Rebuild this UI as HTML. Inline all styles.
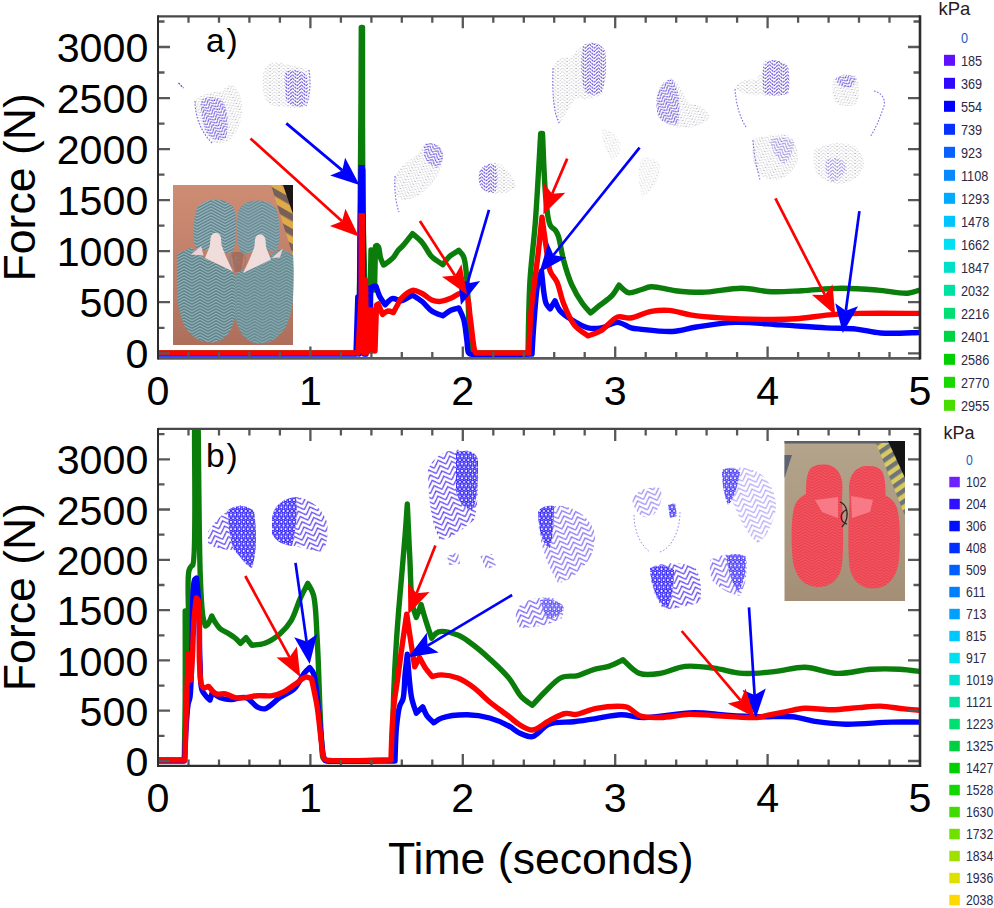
<!DOCTYPE html><html><head><meta charset="utf-8"><style>html,body{margin:0;padding:0;background:#fff;width:994px;height:908px;overflow:hidden}
svg{display:block}
text{font-family:"Liberation Sans",sans-serif;fill:#000}
.tl{font-size:41.2px}
.pl{font-size:33.5px;letter-spacing:1.8px}
.ax{font-size:44.6px}
.lg{fill:#2c2848}
.kp{fill:#2a1a1a}
</style></head><body><svg width="994" height="908" viewBox="0 0 994 908"><rect width="994" height="908" fill="#fff"/><defs>
<pattern id="tread" width="16" height="3" patternUnits="userSpaceOnUse" x="0"><rect width="16" height="3" fill="#7599a0"/><path d="M0,-4.6L8.0,-9.0L16,-4.6" fill="none" stroke="#577a82" stroke-width="1.0"/><path d="M0,-3.4L8.0,-7.8L16,-3.4" fill="none" stroke="#9fbcc0" stroke-width="0.7"/><path d="M0,-1.6L8.0,-6.0L16,-1.6" fill="none" stroke="#577a82" stroke-width="1.0"/><path d="M0,-0.4L8.0,-4.8L16,-0.4" fill="none" stroke="#9fbcc0" stroke-width="0.7"/><path d="M0,1.4L8.0,-3.0L16,1.4" fill="none" stroke="#577a82" stroke-width="1.0"/><path d="M0,2.6L8.0,-1.8L16,2.6" fill="none" stroke="#9fbcc0" stroke-width="0.7"/><path d="M0,4.4L8.0,0.0L16,4.4" fill="none" stroke="#577a82" stroke-width="1.0"/><path d="M0,5.6L8.0,1.2L16,5.6" fill="none" stroke="#9fbcc0" stroke-width="0.7"/><path d="M0,7.4L8.0,3.0L16,7.4" fill="none" stroke="#577a82" stroke-width="1.0"/><path d="M0,8.6L8.0,4.2L16,8.6" fill="none" stroke="#9fbcc0" stroke-width="0.7"/><path d="M0,10.4L8.0,6.0L16,10.4" fill="none" stroke="#577a82" stroke-width="1.0"/><path d="M0,11.6L8.0,7.2L16,11.6" fill="none" stroke="#9fbcc0" stroke-width="0.7"/></pattern><pattern id="treadH" width="28" height="3" patternUnits="userSpaceOnUse" x="1"><rect width="28" height="3" fill="#7b9ca5"/><path d="M0,-4.5L14.0,-12.0L28,-4.5" fill="none" stroke="#5a7c86" stroke-width="1.0"/><path d="M0,-3.3L14.0,-10.8L28,-3.3" fill="none" stroke="#a2bec4" stroke-width="0.7"/><path d="M0,-1.5L14.0,-9.0L28,-1.5" fill="none" stroke="#5a7c86" stroke-width="1.0"/><path d="M0,-0.3L14.0,-7.8L28,-0.3" fill="none" stroke="#a2bec4" stroke-width="0.7"/><path d="M0,1.5L14.0,-6.0L28,1.5" fill="none" stroke="#5a7c86" stroke-width="1.0"/><path d="M0,2.7L14.0,-4.8L28,2.7" fill="none" stroke="#a2bec4" stroke-width="0.7"/><path d="M0,4.5L14.0,-3.0L28,4.5" fill="none" stroke="#5a7c86" stroke-width="1.0"/><path d="M0,5.7L14.0,-1.8L28,5.7" fill="none" stroke="#a2bec4" stroke-width="0.7"/><path d="M0,7.5L14.0,0.0L28,7.5" fill="none" stroke="#5a7c86" stroke-width="1.0"/><path d="M0,8.7L14.0,1.2L28,8.7" fill="none" stroke="#a2bec4" stroke-width="0.7"/><path d="M0,10.5L14.0,3.0L28,10.5" fill="none" stroke="#5a7c86" stroke-width="1.0"/><path d="M0,11.7L14.0,4.2L28,11.7" fill="none" stroke="#a2bec4" stroke-width="0.7"/><path d="M0,13.5L14.0,6.0L28,13.5" fill="none" stroke="#5a7c86" stroke-width="1.0"/><path d="M0,14.7L14.0,7.2L28,14.7" fill="none" stroke="#a2bec4" stroke-width="0.7"/></pattern>
<pattern id="treadR" width="14" height="2.8" patternUnits="userSpaceOnUse"><rect width="14" height="2.8" fill="#f6535e"/><path d="M0,-4.4L7,-8.4L14,-4.4" fill="none" stroke="#d93c4a" stroke-width="0.9"/><path d="M0,-1.6L7,-5.6L14,-1.6" fill="none" stroke="#d93c4a" stroke-width="0.9"/><path d="M0,1.2L7,-2.8L14,1.2" fill="none" stroke="#d93c4a" stroke-width="0.9"/><path d="M0,4.0L7,0.0L14,4.0" fill="none" stroke="#d93c4a" stroke-width="0.9"/><path d="M0,6.8L7,2.8L14,6.8" fill="none" stroke="#d93c4a" stroke-width="0.9"/><path d="M0,9.6L7,5.6L14,9.6" fill="none" stroke="#d93c4a" stroke-width="0.9"/></pattern>
<pattern id="haz" width="20" height="13" patternUnits="userSpaceOnUse" patternTransform="rotate(30)"><rect width="20" height="13" fill="#e0aa48"/><rect width="20" height="6.5" fill="#76605a"/></pattern>
<pattern id="haz2" width="9" height="9" patternUnits="userSpaceOnUse" patternTransform="rotate(-35)"><rect width="9" height="9" fill="#d8cc60"/><rect width="9" height="4.5" fill="#70747a"/></pattern>
<pattern id="chevF" width="8" height="3.4" patternUnits="userSpaceOnUse" patternTransform="rotate(-30)"><path d="M0,2.8L4,0.6L8,2.8" fill="none" stroke="#7058d8" stroke-width="0.8" stroke-dasharray="1.2 1"/></pattern>
<pattern id="chevF2" width="8" height="3.4" patternUnits="userSpaceOnUse" patternTransform="rotate(-30)"><path d="M0,2.8L4,0.6L8,2.8" fill="none" stroke="#9a9aa8" stroke-width="0.6" stroke-dasharray="1 1.4"/></pattern>
<pattern id="chevB" width="12.4" height="5.6" patternUnits="userSpaceOnUse" patternTransform="rotate(-20)"><path d="M0,-10.60L6.2,-16.80L12.4,-10.60" fill="none" stroke="#5a3cf0" stroke-width="1.25"/><path d="M0,-5.00L6.2,-11.20L12.4,-5.00" fill="none" stroke="#5a3cf0" stroke-width="1.25"/><path d="M0,0.60L6.2,-5.60L12.4,0.60" fill="none" stroke="#5a3cf0" stroke-width="1.25"/><path d="M0,6.20L6.2,0.00L12.4,6.20" fill="none" stroke="#5a3cf0" stroke-width="1.25"/><path d="M0,11.80L6.2,5.60L12.4,11.80" fill="none" stroke="#5a3cf0" stroke-width="1.25"/><path d="M0,17.40L6.2,11.20L12.4,17.40" fill="none" stroke="#5a3cf0" stroke-width="1.25"/></pattern>
<pattern id="dotB" width="4.2" height="7.274" patternUnits="userSpaceOnUse"><circle cx="2.10" cy="1.82" r="1.6" fill="none" stroke="#2c1cfa" stroke-width="1.1"/><circle cx="0.00" cy="5.46" r="1.6" fill="none" stroke="#2c1cfa" stroke-width="1.1"/><circle cx="4.20" cy="5.46" r="1.6" fill="none" stroke="#2c1cfa" stroke-width="1.1"/></pattern>
<linearGradient id="bgT" x1="0" y1="0" x2="0" y2="1"><stop offset="0" stop-color="#cd8d73"/><stop offset="0.45" stop-color="#c2806a"/><stop offset="1" stop-color="#ad6f5b"/></linearGradient><linearGradient id="bgB" x1="0" y1="0" x2="0" y2="1"><stop offset="0" stop-color="#b4a48c"/><stop offset="1" stop-color="#a48f76"/></linearGradient><pattern id="cg0" width="9" height="3.4" patternUnits="userSpaceOnUse" patternTransform="rotate(0)"><path d="M0,-6.00L4.5,-10.20L9,-6.00" fill="none" stroke="#7c7c88" stroke-width="0.8" stroke-dasharray="1.4 1.3"/><path d="M0,-2.60L4.5,-6.80L9,-2.60" fill="none" stroke="#7c7c88" stroke-width="0.8" stroke-dasharray="1.4 1.3"/><path d="M0,0.80L4.5,-3.40L9,0.80" fill="none" stroke="#7c7c88" stroke-width="0.8" stroke-dasharray="1.4 1.3"/><path d="M0,4.20L4.5,0.00L9,4.20" fill="none" stroke="#7c7c88" stroke-width="0.8" stroke-dasharray="1.4 1.3"/><path d="M0,7.60L4.5,3.40L9,7.60" fill="none" stroke="#7c7c88" stroke-width="0.8" stroke-dasharray="1.4 1.3"/><path d="M0,11.00L4.5,6.80L9,11.00" fill="none" stroke="#7c7c88" stroke-width="0.8" stroke-dasharray="1.4 1.3"/></pattern><pattern id="cp0" width="9" height="3.4" patternUnits="userSpaceOnUse" patternTransform="rotate(0)"><path d="M0,-6.00L4.5,-10.20L9,-6.00" fill="none" stroke="#5434e0" stroke-width="1.0" stroke-dasharray="2.2 0.8"/><path d="M0,-2.60L4.5,-6.80L9,-2.60" fill="none" stroke="#5434e0" stroke-width="1.0" stroke-dasharray="2.2 0.8"/><path d="M0,0.80L4.5,-3.40L9,0.80" fill="none" stroke="#5434e0" stroke-width="1.0" stroke-dasharray="2.2 0.8"/><path d="M0,4.20L4.5,0.00L9,4.20" fill="none" stroke="#5434e0" stroke-width="1.0" stroke-dasharray="2.2 0.8"/><path d="M0,7.60L4.5,3.40L9,7.60" fill="none" stroke="#5434e0" stroke-width="1.0" stroke-dasharray="2.2 0.8"/><path d="M0,11.00L4.5,6.80L9,11.00" fill="none" stroke="#5434e0" stroke-width="1.0" stroke-dasharray="2.2 0.8"/></pattern><pattern id="cgL" width="9" height="3.4" patternUnits="userSpaceOnUse" patternTransform="rotate(-30)"><path d="M0,-6.00L4.5,-10.20L9,-6.00" fill="none" stroke="#7c7c88" stroke-width="0.8" stroke-dasharray="1.4 1.3"/><path d="M0,-2.60L4.5,-6.80L9,-2.60" fill="none" stroke="#7c7c88" stroke-width="0.8" stroke-dasharray="1.4 1.3"/><path d="M0,0.80L4.5,-3.40L9,0.80" fill="none" stroke="#7c7c88" stroke-width="0.8" stroke-dasharray="1.4 1.3"/><path d="M0,4.20L4.5,0.00L9,4.20" fill="none" stroke="#7c7c88" stroke-width="0.8" stroke-dasharray="1.4 1.3"/><path d="M0,7.60L4.5,3.40L9,7.60" fill="none" stroke="#7c7c88" stroke-width="0.8" stroke-dasharray="1.4 1.3"/><path d="M0,11.00L4.5,6.80L9,11.00" fill="none" stroke="#7c7c88" stroke-width="0.8" stroke-dasharray="1.4 1.3"/></pattern><pattern id="cpL" width="9" height="3.4" patternUnits="userSpaceOnUse" patternTransform="rotate(-30)"><path d="M0,-6.00L4.5,-10.20L9,-6.00" fill="none" stroke="#5434e0" stroke-width="1.0" stroke-dasharray="2.2 0.8"/><path d="M0,-2.60L4.5,-6.80L9,-2.60" fill="none" stroke="#5434e0" stroke-width="1.0" stroke-dasharray="2.2 0.8"/><path d="M0,0.80L4.5,-3.40L9,0.80" fill="none" stroke="#5434e0" stroke-width="1.0" stroke-dasharray="2.2 0.8"/><path d="M0,4.20L4.5,0.00L9,4.20" fill="none" stroke="#5434e0" stroke-width="1.0" stroke-dasharray="2.2 0.8"/><path d="M0,7.60L4.5,3.40L9,7.60" fill="none" stroke="#5434e0" stroke-width="1.0" stroke-dasharray="2.2 0.8"/><path d="M0,11.00L4.5,6.80L9,11.00" fill="none" stroke="#5434e0" stroke-width="1.0" stroke-dasharray="2.2 0.8"/></pattern><pattern id="cgR" width="9" height="3.4" patternUnits="userSpaceOnUse" patternTransform="rotate(30)"><path d="M0,-6.00L4.5,-10.20L9,-6.00" fill="none" stroke="#7c7c88" stroke-width="0.8" stroke-dasharray="1.4 1.3"/><path d="M0,-2.60L4.5,-6.80L9,-2.60" fill="none" stroke="#7c7c88" stroke-width="0.8" stroke-dasharray="1.4 1.3"/><path d="M0,0.80L4.5,-3.40L9,0.80" fill="none" stroke="#7c7c88" stroke-width="0.8" stroke-dasharray="1.4 1.3"/><path d="M0,4.20L4.5,0.00L9,4.20" fill="none" stroke="#7c7c88" stroke-width="0.8" stroke-dasharray="1.4 1.3"/><path d="M0,7.60L4.5,3.40L9,7.60" fill="none" stroke="#7c7c88" stroke-width="0.8" stroke-dasharray="1.4 1.3"/><path d="M0,11.00L4.5,6.80L9,11.00" fill="none" stroke="#7c7c88" stroke-width="0.8" stroke-dasharray="1.4 1.3"/></pattern><pattern id="cpR" width="9" height="3.4" patternUnits="userSpaceOnUse" patternTransform="rotate(30)"><path d="M0,-6.00L4.5,-10.20L9,-6.00" fill="none" stroke="#5434e0" stroke-width="1.0" stroke-dasharray="2.2 0.8"/><path d="M0,-2.60L4.5,-6.80L9,-2.60" fill="none" stroke="#5434e0" stroke-width="1.0" stroke-dasharray="2.2 0.8"/><path d="M0,0.80L4.5,-3.40L9,0.80" fill="none" stroke="#5434e0" stroke-width="1.0" stroke-dasharray="2.2 0.8"/><path d="M0,4.20L4.5,0.00L9,4.20" fill="none" stroke="#5434e0" stroke-width="1.0" stroke-dasharray="2.2 0.8"/><path d="M0,7.60L4.5,3.40L9,7.60" fill="none" stroke="#5434e0" stroke-width="1.0" stroke-dasharray="2.2 0.8"/><path d="M0,11.00L4.5,6.80L9,11.00" fill="none" stroke="#5434e0" stroke-width="1.0" stroke-dasharray="2.2 0.8"/></pattern></defs><path d="M178.5,83 L183.5,88" stroke="#3a5ad8" stroke-width="1.3" stroke-dasharray="2 1.2"/><path d="M195,101 C200,94 212,92 222,91 C226,86 230,83 234,86 C240,92 243,100 242,110 C241,122 238,132 230,140 C222,145 214,144 208,140 C200,130 195,115 195,101 Z" fill="url(#cgL)" opacity="0.75"/><path d="M201,100 C208,96 216,97 222,100 C228,108 229,125 226,138 C220,142 212,141 206,132 C202,122 200,110 201,100 Z" fill="url(#cpL)" opacity="0.9"/><path d="M195,101 C195,118 202,133 212,143" fill="none" stroke="#6a4ee0" stroke-width="1.1" stroke-dasharray="1.6 1.6" opacity="0.85"/><path d="M264,70 C268,62 280,60 285,64 C292,66 302,66 309,70 C311,82 310,96 306,106 C298,109 290,108 282,106 C274,108 266,104 264,96 C262,86 262,76 264,70 Z" fill="url(#cg0)" opacity="0.75"/><path d="M285,72 C292,68 302,70 307,76 C309,88 308,98 304,106 C296,108 290,106 286,100 C285,90 284,80 285,72 Z" fill="url(#cp0)" opacity="0.9"/><path d="M309,70 C311,82 310,96 306,106" fill="none" stroke="#6a4ee0" stroke-width="1.1" stroke-dasharray="1.6 1.6" opacity="0.85"/><path d="M425,144 C432,142 440,144 443,152 C444,166 438,178 428,188 C420,196 410,201 402,200 C396,198 394,190 395,176 C400,166 410,160 418,154 C420,150 422,146 425,144 Z" fill="url(#cgR)" opacity="0.75"/><path d="M424,144 C432,142 440,144 443,152 C444,160 441,166 436,168 C430,166 426,160 424,156 Z" fill="url(#cpR)" opacity="0.9"/><path d="M395,176 C394,190 396,204 399,212" fill="none" stroke="#6a4ee0" stroke-width="1.1" stroke-dasharray="1.6 1.6" opacity="0.85"/><path d="M480,170 C484,164 494,161 500,164 C508,170 514,178 516,186 C512,192 504,194 496,194 C486,194 480,190 479,182 C478,178 479,174 480,170 Z" fill="url(#cg0)" opacity="0.75"/><path d="M480,170 C484,164 492,162 496,166 C498,174 498,186 495,193 C486,193 480,189 479,182 C478,178 479,174 480,170 Z" fill="url(#cp0)" opacity="0.9"/><path d="M553,68 C556,60 562,56 570,58 C576,52 582,44 590,42 C598,42 604,48 606,56 C607,70 606,84 602,94 C594,100 584,100 576,98 C570,106 564,116 560,124 C554,118 552,96 553,68 Z" fill="url(#cg0)" opacity="0.75"/><path d="M583,46 C590,41 600,42 605,50 C607,64 606,80 602,92 C596,96 588,96 584,90 C581,76 580,60 583,46 Z" fill="url(#cp0)" opacity="0.9"/><path d="M553,68 C552,96 554,116 560,124" fill="none" stroke="#6a4ee0" stroke-width="1.1" stroke-dasharray="1.6 1.6" opacity="0.85"/><path d="M657,92 C660,84 666,78 672,78 C680,84 684,96 690,104 C698,104 706,108 710,116 C706,124 696,128 684,128 C672,128 662,124 658,116 C656,108 656,98 657,92 Z" fill="url(#cgL)" opacity="0.75"/><path d="M658,92 C662,84 668,78 673,80 C679,90 681,106 678,124 C670,126 662,122 658,116 C656,108 656,98 658,92 Z" fill="url(#cpL)" opacity="0.9"/><path d="M602,130 C608,128 616,134 620,142 C622,150 618,158 612,160 C606,154 602,144 602,130 Z" fill="url(#cgR)" opacity="0.5"/><path d="M640,160 C646,156 656,156 660,166 C660,180 652,192 642,197 C638,185 638,170 640,160 Z" fill="url(#cgR)" opacity="0.5"/><path d="M735,89 C738,80 748,78 756,80 C762,68 770,60 780,60 C788,64 790,76 789,92 C780,96 770,96 762,95 C752,96 744,94 735,89 Z" fill="url(#cg0)" opacity="0.75"/><path d="M764,62 C772,58 782,60 788,66 C790,76 790,86 788,94 C780,96 770,96 764,94 C762,84 762,72 764,62 Z" fill="url(#cp0)" opacity="0.9"/><path d="M735,89 C736,104 740,118 746,127" fill="none" stroke="#6a4ee0" stroke-width="1.1" stroke-dasharray="1.6 1.6" opacity="0.85"/><path d="M833,80 C838,74 848,72 856,76 C860,84 860,96 856,104 C848,108 838,106 834,100 C832,92 832,86 833,80 Z" fill="url(#cgL)" opacity="0.75"/><path d="M836,78 C842,74 850,74 856,78 C856,84 852,88 846,88 C840,86 836,84 836,78 Z" fill="url(#cpL)" opacity="0.9"/><path d="M874,91 C880,92 886,98 884,106 C880,118 876,128 870,137" fill="none" stroke="#6a4ee0" stroke-width="1.1" stroke-dasharray="1.6 1.6" opacity="0.85"/><path d="M753,140 C760,136 772,134 784,134 C794,136 798,146 798,160 C794,172 786,178 776,180 C766,180 758,176 754,166 C752,158 752,148 753,140 Z" fill="url(#cgR)" opacity="0.75"/><path d="M770,140 C778,136 788,136 794,142 C794,152 790,160 784,164 C778,160 772,152 770,140 Z" fill="url(#cpR)" opacity="0.55"/><path d="M753,140 C754,158 758,172 760,180" fill="none" stroke="#6a4ee0" stroke-width="1.1" stroke-dasharray="1.6 1.6" opacity="0.85"/><path d="M814,150 C822,144 836,142 848,144 C858,146 864,154 864,166 C860,176 852,182 842,184 C830,184 820,180 816,172 C813,166 813,158 814,150 Z" fill="url(#cg0)" opacity="0.75"/><path d="M826,160 C834,156 844,158 846,166 C846,174 840,180 832,182 C826,176 824,168 826,160 Z" fill="url(#cp0)" opacity="0.5"/><path d="M208,532 C214,522 222,514 232,508 C240,504 250,504 254,512 C257,530 257,552 252,568 C246,566 240,556 234,550 C226,550 214,548 208,544 Z" fill="url(#chevB)" opacity="1.0"/><path d="M228,510 C236,505 248,504 254,512 C257,530 257,552 252,568 C246,566 240,556 234,550 C230,540 228,525 228,510 Z" fill="#fff"/><path d="M228,510 C236,505 248,504 254,512 C257,530 257,552 252,568 C246,566 240,556 234,550 C230,540 228,525 228,510 Z" fill="url(#dotB)" opacity="1.0"/><path d="M272,520 C272,506 284,498 296,497 C310,498 322,508 327,522 C329,536 326,548 322,552 C310,550 296,546 284,544 C276,542 272,534 272,520 Z" fill="url(#chevB)" opacity="1.0"/><path d="M272,520 C272,506 284,498 296,497 C298,512 296,530 292,546 C284,545 276,542 272,534 Z" fill="#fff"/><path d="M272,520 C272,506 284,498 296,497 C298,512 296,530 292,546 C284,545 276,542 272,534 Z" fill="url(#dotB)" opacity="1.0"/><path d="M428,470 C432,458 444,450 456,450 C468,449 478,452 478,462 C478,490 478,510 474,520 C462,530 450,540 440,540 C432,526 428,500 428,470 Z" fill="url(#chevB)" opacity="1.0"/><path d="M456,452 C468,449 478,452 478,462 C478,490 476,505 472,510 C462,508 458,500 456,490 Z" fill="#fff"/><path d="M456,452 C468,449 478,452 478,462 C478,490 476,505 472,510 C462,508 458,500 456,490 Z" fill="url(#dotB)" opacity="1.0"/><path d="M538,520 C540,510 552,505 562,506 C578,508 592,520 595,534 C596,548 590,560 584,566 C576,576 566,582 558,583 C548,566 540,548 538,520 Z" fill="url(#chevB)" opacity="0.75"/><path d="M538,512 C541,506 548,505 554,506 C554,520 553,536 550,548 C544,546 539,536 538,512 Z" fill="#fff"/><path d="M538,512 C541,506 548,505 554,506 C554,520 553,536 550,548 C544,546 539,536 538,512 Z" fill="url(#dotB)" opacity="1.0"/><path d="M447,556 L458,552 L460,564 L449,565 Z" fill="url(#chevB)" opacity="0.8"/><path d="M480,556 L492,554 L496,566 L486,569 Z" fill="url(#chevB)" opacity="0.8"/><path d="M516,610 C522,600 540,596 552,598 C562,600 566,608 562,618 C552,624 536,628 520,628 C516,622 515,616 516,610 Z" fill="url(#chevB)" opacity="0.85"/><path d="M540,600 C548,598 560,600 564,608 C560,616 552,620 546,618 Z" fill="#fff"/><path d="M540,600 C548,598 560,600 564,608 C560,616 552,620 546,618 Z" fill="url(#dotB)" opacity="0.8"/><path d="M632,500 C636,490 648,486 660,488 C664,496 660,510 652,516 C644,520 636,515 632,500 Z" fill="url(#chevB)" opacity="0.6"/><path d="M634,515 C634,530 640,545 650,552 M660,552 C672,548 680,530 680,512" fill="none" stroke="#6a4ee0" stroke-width="1" stroke-dasharray="1.5 2" opacity="0.7"/><path d="M668,505 L675,503 L677,516 L670,518 Z" fill="#fff"/><path d="M668,505 L675,503 L677,516 L670,518 Z" fill="url(#dotB)" opacity="0.9"/><path d="M722,470 C730,466 746,466 758,472 C770,480 777,495 776,510 C772,526 766,538 758,543 C748,536 740,520 734,505 C728,495 722,485 722,470 Z" fill="url(#chevB)" opacity="0.45"/><path d="M722,470 C728,467 736,468 740,472 C738,485 734,500 728,505 C724,496 722,484 722,470 Z" fill="#fff"/><path d="M722,470 C728,467 736,468 740,472 C738,485 734,500 728,505 C724,496 722,484 722,470 Z" fill="url(#dotB)" opacity="0.9"/><path d="M650,568 C660,562 680,562 694,566 C702,576 702,592 700,602 C690,606 676,608 664,610 C656,600 650,585 650,568 Z" fill="url(#chevB)" opacity="1.0"/><path d="M650,568 C658,565 668,565 674,570 C674,585 672,598 668,608 C660,606 652,592 650,568 Z" fill="#fff"/><path d="M650,568 C658,565 668,565 674,570 C674,585 672,598 668,608 C660,606 652,592 650,568 Z" fill="url(#dotB)" opacity="1.0"/><path d="M710,560 C720,554 736,552 746,556 C748,570 746,585 740,596 C730,594 718,588 712,580 C710,574 709,566 710,560 Z" fill="url(#chevB)" opacity="0.8"/><path d="M726,556 C736,553 744,554 746,558 C746,572 744,584 738,592 C732,584 728,570 726,556 Z" fill="#fff"/><path d="M726,556 C736,553 744,554 746,558 C746,572 744,584 738,592 C732,584 728,570 726,556 Z" fill="url(#dotB)" opacity="0.9"/><g><rect x="173" y="185" width="120" height="160" fill="url(#bgT)"/><path d="M231,252 L244,252 L241,272 L235,272 Z" fill="#8a5a4c" opacity="0.5"/><path d="M271,185 L293,185 L293,256 Z" fill="url(#haz)"/><path d="M283,185 L293,185 L293,214 Z" fill="#1c1616"/><path d="M215,199.8 C221,199.6 228,201.5 232.4,206 C235.5,210 236.6,218 236.4,226 C236.2,234 235.6,242 234,248 C232.6,252 230,253.5 227,253 C222,252.5 218,250 215,246 C210,250 202,252 197,249 C194.5,246 193.8,242 193.8,236 C193.6,228 194,218 196,211 C198.5,203.5 206,200 215,199.8 Z" fill="url(#treadH)"/><path d="M215,199.8 C221,199.6 228,201.5 232.4,206 C235.5,210 236.6,218 236.4,226 C236.2,234 235.6,242 234,248 C232.6,252 230,253.5 227,253 C222,252.5 218,250 215,246 C210,250 202,252 197,249 C194.5,246 193.8,242 193.8,236 C193.6,228 194,218 196,211 C198.5,203.5 206,200 215,199.8 Z" fill="url(#treadH)" transform="translate(473.2,0.8) scale(-1,1)"/><path d="M177.5,254 L190.8,247.4 L205,258 L233,271.5 C235,274 235.6,277 235.6,281 C235.8,292 235.8,303 235.4,313.8 C234.6,322 232,328 228.5,333.6 C224,339 218,342.6 212.6,342.6 C205,342.6 199,341 194.7,337.6 C189,333 185,328 182.8,321.7 C179,312 177.6,303 177.4,294 C177,285 176.8,276 176.9,268.2 Z" fill="url(#tread)"/><path d="M177.5,254 L190.8,247.4 L205,258 L233,271.5 C235,274 235.6,277 235.6,281 C235.8,292 235.8,303 235.4,313.8 C234.6,322 232,328 228.5,333.6 C224,339 218,342.6 212.6,342.6 C205,342.6 199,341 194.7,337.6 C189,333 185,328 182.8,321.7 C179,312 177.6,303 177.4,294 C177,285 176.8,276 176.9,268.2 Z" fill="url(#tread)" transform="translate(470.6,0.8) scale(-1,1)"/><path d="M215.2,233 C218,232.5 220.5,234.5 221,238 L221.5,245 C224,252 228,262 233,271.5 L205,258 C207,253 209,249 210,245 L210.5,238 C211,235 213,233 215.2,233 Z" fill="#f1dcdc"/><path d="M215.2,233 C218,232.5 220.5,234.5 221,238 L221.5,245 C224,252 228,262 233,271.5 L205,258 C207,253 209,249 210,245 L210.5,238 C211,235 213,233 215.2,233 Z" fill="#f1dcdc" transform="translate(476,1.5) scale(-1,1)"/><path d="M190.8,254.5 L201.2,246.2 L203.5,255.5 Z" fill="#ecd2d6"/><path d="M271.7,257.9 L282.8,248.6 L280,257.5 Z" fill="#ecd2d6"/><path d="M233,252 C228,258 230,268 236,268 M241,252 C247,255 247,264 242,269 M237,256 C234,260 236,264 240,262" fill="none" stroke="#8a8086" stroke-width="1.2"/></g><g><rect x="784.5" y="441" width="120.5" height="160" fill="url(#bgB)"/><rect x="784.5" y="441" width="120.5" height="2.5" fill="#5a6068"/><path d="M784.5,455 L792,455 L784.5,478 Z" fill="#5a6474"/><path d="M876,443 L905,443 L905,516 Z" fill="url(#haz2)"/><path d="M888,441 L905,441 L905,478 Z" fill="#141414"/><path d="M824,464.5 C834,464 842,472 842.5,485 L842,500 C843,520 844,545 842,565 C840,580 830,587 818,587 C805,587 796,578 793,562 C791,545 791,520 794,508 C796,500 802,496 806,494 C806,485 806,475 810,469 C814,465 819,464.5 824,464.5 Z" fill="url(#treadR)"/><path d="M824,464.5 C834,464 842,472 842.5,485 L842,500 C843,520 844,545 842,565 C840,580 830,587 818,587 C805,587 796,578 793,562 C791,545 791,520 794,508 C796,500 802,496 806,494 C806,485 806,475 810,469 C814,465 819,464.5 824,464.5 Z" fill="url(#treadR)" transform="translate(1691.5,1.5) scale(-1,1)"/><path d="M815,500 L838,497 L838,518 L822,512 Z" fill="#f87a86"/><path d="M851,496 L873,500 L870,512 L852,518 Z" fill="#f87a86"/><path d="M840,502 C848,505 850,518 842,527 M846,510 C839,514 840,522 847,524" fill="none" stroke="#3a1c24" stroke-width="1.3"/></g><defs><clipPath id="c1"><rect x="158" y="16.3" width="762" height="342.09999999999997"/></clipPath><clipPath id="c2"><rect x="158" y="428.9" width="762" height="337.0"/></clipPath></defs><g clip-path="url(#c1)"><path d="M158.0,353.0C191.5,353.0 325.5,353.0 359.0,353.0L359.0,353.0C359.3,310.8 360.6,158.8 361.0,100.0C361.2,68.5 361.2,39.6 361.3,27.5L361.3,27.5C361.5,27.5 362.3,27.5 362.5,27.5L362.5,27.5C362.6,56.2 362.3,157.3 362.8,200.0C363.1,225.2 363.8,242.0 364.2,260.0C364.5,274.7 364.7,287.6 365.0,300.0C365.3,310.7 365.8,325.0 366.0,330.0L366.0,330.0C366.6,325.0 368.7,311.3 369.5,300.0C370.6,285.5 370.8,258.3 371.0,250.0L371.0,250.0C371.2,256.7 371.8,283.3 372.0,290.0L372.0,290.0C372.2,283.3 373.2,256.7 373.5,250.0L373.5,250.0C373.7,256.7 374.3,283.3 374.5,290.0L374.5,290.0C374.7,282.7 375.3,253.3 375.5,246.0L375.5,246.0C375.8,245.9 376.8,245.6 377.0,245.5L377.0,245.5C377.2,245.8 378.1,246.2 378.5,247.0C379.5,248.9 379.6,254.8 380.6,258.0C381.4,260.6 383.0,263.8 383.5,265.0L383.5,265.0C383.9,264.8 385.0,264.2 386.0,263.5C387.8,262.2 391.3,259.7 393.3,257.5C395.2,255.4 396.4,252.5 398.1,250.4C399.6,248.6 401.1,247.6 402.9,245.6C405.6,242.6 410.9,235.6 412.5,233.6L412.5,233.6C414.1,235.1 419.1,238.9 422.1,242.4C425.6,246.4 428.0,252.9 431.7,256.7C435.0,260.1 441.0,263.4 442.9,264.7L442.9,264.7C443.9,263.4 446.7,259.0 449.2,256.7C451.9,254.2 457.2,251.4 458.8,250.4L458.8,250.4C459.6,251.4 462.4,253.7 463.6,256.7C465.7,261.7 465.9,269.8 466.8,279.1C468.3,294.4 468.7,327.2 470.0,340.0C470.6,345.9 471.7,350.8 472.0,353.0L472.0,353.0C481.3,353.0 518.7,353.0 528.0,353.0L528.0,353.0C528.3,341.1 528.6,304.5 529.9,281.9C531.1,261.2 533.6,244.3 535.3,222.5C537.3,195.8 539.8,148.3 540.7,133.5L540.7,133.5C541.0,133.5 542.2,133.5 542.5,133.5L542.5,133.5C543.1,144.8 544.2,184.2 546.1,201.0C547.2,211.1 547.6,220.2 550.2,225.2C551.6,228.0 554.2,228.7 555.6,230.6C556.8,232.3 557.4,233.5 558.3,236.0C560.1,241.1 561.4,252.3 563.6,260.3C565.8,268.5 568.4,277.2 571.7,284.6C574.8,291.5 578.9,298.4 582.5,303.5C585.2,307.3 589.2,311.3 590.6,312.9L590.6,312.9C592.0,311.8 595.6,308.7 598.7,306.2C602.6,303.0 608.7,299.3 612.2,295.4C615.2,292.1 617.9,286.8 619.0,285.1L619.0,285.1C620.6,286.4 624.9,291.9 628.4,292.7C631.9,293.5 636.2,291.0 640.0,290.0C643.8,289.0 646.7,287.1 651.1,286.8C657.6,286.4 667.0,289.8 675.3,290.7C684.1,291.7 692.5,292.5 702.4,292.3C714.3,292.0 729.5,288.2 741.7,288.3C752.4,288.4 761.8,291.3 771.9,291.7C781.9,292.1 791.3,291.2 802.0,290.7C814.2,290.1 828.5,288.4 841.3,288.3C853.6,288.2 866.0,289.2 877.5,290.1C888.0,290.9 899.9,293.8 907.7,293.2C912.7,292.8 917.8,290.6 919.8,290.1" fill="none" stroke="#0a7d0a" stroke-width="5.4" stroke-linejoin="round" stroke-linecap="round"/><path d="M158.0,354.0C191.0,354.0 323.0,354.0 356.0,354.0L356.0,354.0C356.3,344.5 357.5,306.5 357.8,297.0L357.8,297.0C358.0,306.5 358.8,344.5 359.0,354.0L359.0,354.0C359.2,336.7 359.6,282.4 360.0,250.0C360.3,221.6 361.0,183.3 361.2,170.0L361.2,170.0C361.5,170.0 362.5,170.0 362.8,170.0L362.8,170.0C363.0,200.7 363.8,323.3 364.0,354.0L364.0,354.0C364.3,354.0 365.7,354.0 366.0,354.0L366.0,354.0C366.6,343.0 368.9,299.0 369.5,288.0L369.5,288.0C369.7,291.3 370.3,304.7 370.5,308.0L370.5,308.0C370.7,304.7 370.1,290.9 371.5,288.0C372.0,286.9 372.7,286.6 373.5,286.3C374.2,286.0 375.6,286.3 376.0,286.3L376.0,286.3C376.7,288.1 378.4,293.8 380.0,297.0C381.5,299.9 384.3,303.5 385.2,304.8L385.2,304.8C386.4,303.8 389.6,299.3 392.3,298.6C395.0,297.9 398.2,301.1 401.3,300.7C404.9,300.3 410.6,296.0 412.5,295.1L412.5,295.1C414.1,296.2 419.0,299.0 422.1,301.5C425.4,304.2 428.1,308.6 431.7,311.0C435.1,313.3 441.0,315.0 442.9,315.8L442.9,315.8C444.2,314.9 448.0,311.6 450.8,310.3C453.4,309.1 457.5,308.3 458.8,307.9L458.8,307.9C459.6,309.8 462.3,314.6 463.6,319.0C465.3,324.8 465.9,333.7 466.8,339.8C467.5,344.6 467.3,350.6 468.4,352.6C468.8,353.4 469.0,353.6 470.0,354.0C475.7,356.1 521.7,354.0 532.0,354.0L532.0,354.0C532.3,348.7 533.1,333.6 534.0,322.4C535.0,309.7 536.1,291.0 538.0,281.9C539.0,277.1 540.9,272.9 541.5,271.1L541.5,271.1C542.3,276.5 543.6,297.4 546.1,303.5C547.3,306.3 549.5,308.0 550.2,308.9L550.2,308.9C551.0,307.5 554.2,302.1 555.0,300.8L555.0,300.8C555.8,302.4 557.3,307.3 559.6,310.2C562.4,313.7 567.2,316.9 571.7,319.7C576.6,322.8 582.6,326.5 587.9,327.8C592.5,328.9 596.8,328.6 601.4,327.8C606.6,327.0 612.5,322.2 617.6,322.4C622.3,322.5 627.0,326.7 631.1,327.8C634.3,328.7 636.1,328.7 640.0,329.1C647.4,329.9 662.4,332.0 672.3,331.5C681.0,331.0 687.4,328.4 696.4,327.0C707.9,325.3 722.0,322.8 735.6,322.4C750.1,322.0 765.8,324.0 780.9,324.9C796.0,325.8 812.6,327.2 826.2,327.9C837.3,328.5 846.9,328.1 856.4,329.1C864.9,330.0 871.5,332.3 880.5,333.0C892.0,333.8 913.2,332.6 919.8,332.5" fill="none" stroke="#0000ff" stroke-width="5.4" stroke-linejoin="round" stroke-linecap="round"/><rect x="358.6" y="165" width="6.2" height="60" fill="#0000ff"/><path d="M158.0,353.0C191.3,353.0 324.7,353.0 358.0,353.0L358.0,353.0C358.5,344.2 360.5,308.8 361.0,300.0L361.0,300.0C361.2,300.0 361.8,300.0 362.0,300.0L362.0,300.0C362.3,308.8 363.7,344.2 364.0,353.0L364.0,353.0C364.2,340.8 365.2,292.2 365.5,280.0L365.5,280.0C365.7,292.2 366.3,340.8 366.5,353.0L366.5,353.0C366.9,345.8 368.6,317.2 369.0,310.0L369.0,310.0C369.2,316.8 369.8,344.2 370.0,351.0L370.0,351.0C370.2,344.2 371.2,316.8 371.5,310.0L371.5,310.0C371.7,316.8 372.3,344.2 372.5,351.0L372.5,351.0C372.8,344.2 373.8,316.8 374.0,310.0L374.0,310.0C374.2,316.8 374.8,344.2 375.0,351.0L375.0,351.0C375.2,343.3 376.2,312.7 376.5,305.0L376.5,305.0C376.8,304.8 377.9,304.1 378.2,303.9L378.2,303.9C378.9,305.6 381.9,312.6 382.6,314.4L382.6,314.4C383.5,313.8 386.1,311.3 388.0,311.0C389.7,310.8 392.4,312.3 393.3,312.6L393.3,312.6C394.0,311.3 396.1,307.4 397.5,305.0C398.8,302.7 399.4,300.4 401.3,298.3C403.9,295.5 408.8,290.9 412.5,290.3C415.7,289.8 419.0,292.0 422.1,293.5C425.4,295.1 428.5,298.6 431.7,299.9C434.4,301.0 436.8,301.6 439.7,301.5C443.1,301.4 447.3,299.7 450.8,298.3C454.2,297.0 457.5,293.5 460.4,293.5C462.7,293.5 465.2,294.6 466.8,296.7C469.4,300.2 468.9,308.5 470.0,315.8C471.5,325.7 473.2,346.5 474.8,351.0C475.2,352.1 475.8,352.7 476.0,353.0L476.0,353.0C484.8,353.0 519.8,353.0 528.6,353.0L528.6,353.0C529.0,345.6 529.9,324.3 531.3,308.9C532.9,291.8 536.1,271.3 538.0,254.9C539.6,241.2 541.3,223.4 542.0,217.1L542.0,217.1C542.7,222.1 544.7,237.4 546.1,246.8C547.4,255.3 547.8,264.8 550.2,271.1C551.9,275.6 554.9,277.5 556.9,281.9C559.6,287.7 560.8,296.4 563.6,303.5C566.5,310.8 569.9,319.5 574.4,325.1C578.2,329.8 585.6,334.1 587.9,335.9L587.9,335.9C590.1,335.0 596.9,333.2 601.4,330.5C606.8,327.3 612.2,318.7 617.6,317.0C621.7,315.7 625.4,318.5 630.0,318.0C636.2,317.3 644.3,312.5 651.1,311.3C657.3,310.2 663.0,309.9 669.2,310.4C676.0,310.9 682.7,313.7 690.4,314.9C699.5,316.3 709.4,317.2 720.5,317.9C734.0,318.8 752.2,319.3 765.8,319.4C776.9,319.5 785.7,319.5 796.0,318.8C806.8,318.1 818.4,315.8 829.2,314.9C839.5,314.0 847.6,313.7 859.4,313.4C876.1,313.0 909.7,313.4 919.8,313.4" fill="none" stroke="#ff0000" stroke-width="5.4" stroke-linejoin="round" stroke-linecap="round"/><rect x="358.5" y="213.2" width="6.5" height="140" fill="#ff0000"/></g><g clip-path="url(#c2)"><path d="M158.0,760.0C162.4,760.0 179.9,760.0 184.3,760.0L184.3,760.0C184.5,750.0 185.0,722.0 185.2,700.0C185.4,673.2 185.2,625.8 185.2,611.0L185.2,611.0C185.4,611.0 186.3,611.0 186.5,611.0L186.5,611.0C186.7,624.2 187.3,676.8 187.5,690.0L187.5,690.0C187.7,678.3 188.2,641.3 188.5,620.0C188.7,602.1 187.0,578.0 189.0,570.5C189.6,568.1 190.7,566.9 191.5,566.0C191.9,565.5 192.4,565.8 192.8,565.0C196.4,557.8 194.3,452.5 194.6,430.0L194.6,430.0C195.2,430.0 197.6,430.0 198.2,430.0L198.2,430.0C198.6,454.9 199.0,546.5 200.4,579.7C201.1,596.3 201.6,609.0 203.0,617.1C203.7,621.1 205.1,624.5 205.5,626.0L205.5,626.0C205.9,625.7 207.2,625.0 208.0,624.0C209.3,622.3 211.2,617.3 211.8,616.0L211.8,616.0C212.3,617.0 213.7,620.0 215.0,622.0C216.4,624.2 217.8,626.5 219.9,628.4C222.4,630.6 226.5,632.3 229.2,634.0C231.3,635.3 233.0,636.2 234.8,637.7C236.8,639.3 239.6,642.4 240.5,643.3L240.5,643.3C241.4,642.4 245.2,638.6 246.1,637.7L246.1,637.7C247.0,639.0 250.8,644.0 251.7,645.2L251.7,645.2C253.9,644.9 260.5,644.9 264.8,643.3C269.8,641.5 275.4,637.8 279.8,634.0C284.1,630.3 287.8,626.2 291.0,620.9C294.8,614.7 297.2,605.1 300.3,598.4C302.8,592.8 306.6,585.9 307.8,583.4L307.8,583.4C308.7,585.3 311.9,589.5 313.4,594.7C316.1,604.5 316.2,622.9 317.2,639.6C318.5,660.4 319.1,690.6 320.0,710.0C320.6,723.7 321.2,736.2 321.8,745.0C322.2,750.4 321.9,755.6 323.0,758.0C323.5,759.1 323.7,759.4 325.0,760.0C331.5,762.7 380.8,760.0 392.0,760.0L392.0,760.0C392.2,750.0 393.0,715.7 393.5,700.0C393.8,689.9 394.1,684.0 394.5,675.0C395.0,664.3 395.8,651.2 396.5,640.0C397.2,629.6 397.8,621.3 398.7,610.0C399.9,595.4 401.8,574.6 403.0,560.0C404.0,548.7 404.8,539.6 405.5,530.0C406.2,521.0 407.0,508.3 407.3,504.0L407.3,504.0C407.7,513.3 409.0,542.3 409.9,559.9C410.7,575.6 410.6,594.3 412.4,604.6C413.4,610.2 415.6,615.3 416.3,617.4L416.3,617.4C417.1,615.3 420.3,606.7 421.1,604.6L421.1,604.6C421.9,607.3 424.1,615.2 425.8,620.6C427.6,626.3 430.6,635.2 431.6,638.1L431.6,638.1C432.8,637.1 435.4,632.7 438.6,631.8C443.2,630.5 452.2,632.9 457.8,635.0C462.7,636.9 466.0,639.7 470.6,643.0C476.5,647.2 483.5,653.2 489.7,658.9C496.2,664.9 503.4,671.4 508.9,678.1C513.9,684.2 517.2,692.5 521.7,697.2C525.1,700.8 530.6,703.9 532.4,705.2L532.4,705.2C534.5,703.0 540.3,696.4 544.8,692.0C549.8,687.2 555.4,680.3 561.3,677.6C566.5,675.3 572.4,676.8 577.8,675.5C583.4,674.1 588.9,670.8 594.3,669.3C599.2,667.9 604.0,667.9 608.7,666.4C613.6,664.8 620.7,660.9 623.1,659.8L623.1,659.8C625.9,662.1 633.3,671.2 639.6,673.4C645.8,675.6 653.2,674.4 660.3,673.4C668.2,672.3 676.4,667.3 685.0,666.4C694.2,665.4 704.3,666.9 713.9,668.1C723.6,669.3 732.8,672.8 742.8,673.4C753.4,674.0 765.2,672.5 775.8,671.4C785.8,670.4 794.8,667.1 804.7,667.3C815.4,667.5 826.7,673.1 837.7,673.4C848.7,673.7 860.1,670.0 870.7,669.3C880.6,668.7 890.7,668.8 899.5,669.3C906.9,669.7 916.4,671.0 919.8,671.4" fill="none" stroke="#0a7d0a" stroke-width="5.4" stroke-linejoin="round" stroke-linecap="round"/><path d="M158.0,761.0C162.4,761.0 179.9,761.0 184.3,761.0L184.3,761.0C184.9,751.7 186.4,715.2 188.0,705.0C188.6,701.1 189.4,700.8 190.0,697.0C191.3,687.9 191.3,667.2 192.0,650.0C192.8,629.0 191.6,586.7 194.5,580.0C195.1,578.7 196.2,578.3 196.5,578.0L196.5,578.0C196.8,581.7 198.0,590.8 198.5,600.0C199.4,615.4 199.2,645.4 200.0,662.0C200.5,673.2 199.9,684.0 202.0,690.0C203.2,693.3 205.3,695.2 206.8,697.0C207.9,698.3 209.5,699.5 210.0,700.0L210.0,700.0C210.4,698.7 212.0,693.3 212.4,692.0L212.4,692.0C213.7,692.9 217.0,696.3 219.9,697.6C223.1,699.0 227.1,699.4 231.1,699.5C235.7,699.6 241.7,696.3 246.1,697.6C250.4,698.9 253.7,705.2 257.3,707.0C259.9,708.3 262.0,709.4 264.8,708.8C269.1,707.9 274.7,701.1 279.8,697.6C284.7,694.2 290.6,692.2 294.7,688.2C298.8,684.1 301.2,677.0 304.1,673.3C306.1,670.8 308.8,668.5 309.7,667.6L309.7,667.6C310.3,668.5 312.3,670.3 313.4,673.3C316.1,680.6 317.6,702.3 319.0,714.4C320.1,723.9 320.7,732.6 321.5,740.0C322.1,745.7 322.4,751.3 323.2,755.0C323.7,757.3 324.7,759.6 325.0,760.5L325.0,760.5C325.3,760.6 325.8,760.9 327.0,761.0C333.6,761.8 383.7,761.0 395.0,761.0L395.0,761.0C395.2,755.3 395.5,737.0 396.5,727.0C397.3,719.1 398.2,711.0 399.7,706.0C400.6,703.0 402.2,702.1 403.0,699.0C404.5,693.5 404.3,682.7 405.0,675.0C405.7,667.8 406.9,657.6 407.3,654.1L407.3,654.1C408.0,661.3 409.4,686.4 411.5,697.2C412.8,703.9 415.5,710.5 416.3,713.2L416.3,713.2C417.4,712.1 421.6,707.9 422.7,706.8L422.7,706.8C423.5,708.4 425.4,713.7 427.4,716.4C429.2,718.9 432.7,721.7 433.8,722.8L433.8,722.8C435.1,722.0 438.2,719.2 441.8,718.0C447.8,715.9 459.2,714.7 467.4,714.8C475.1,714.9 482.7,716.1 489.7,718.0C496.5,719.9 503.5,723.1 508.9,726.0C513.2,728.3 516.0,731.5 520.0,733.3C523.9,735.0 528.2,737.4 532.4,736.6C537.8,735.6 542.4,726.7 548.9,724.2C556.0,721.4 565.7,722.6 573.6,721.7C580.8,720.8 587.0,719.9 594.3,718.8C602.7,717.6 612.5,714.8 621.1,714.7C629.0,714.6 634.8,717.5 643.8,717.6C657.1,717.8 678.5,712.8 693.3,712.6C705.4,712.4 715.3,714.4 726.3,715.1C737.3,715.8 748.3,716.5 759.3,716.8C770.3,717.1 782.1,715.8 792.3,716.8C801.2,717.7 808.4,720.5 817.0,721.7C826.2,723.0 835.2,724.0 845.9,724.2C859.3,724.5 877.9,722.4 891.3,722.1C901.9,721.9 915.0,722.1 919.8,722.1" fill="none" stroke="#0000ff" stroke-width="5.4" stroke-linejoin="round" stroke-linecap="round"/><path d="M158.0,760.0C162.5,760.0 180.5,760.0 185.0,760.0L185.0,760.0C185.2,750.0 186.1,712.7 186.5,700.0C186.7,694.1 186.8,692.3 187.0,687.0C187.4,678.5 188.2,659.5 188.5,654.0L188.5,654.0C188.8,654.0 189.8,654.0 190.0,654.0L190.0,654.0C190.2,658.3 190.8,675.7 191.0,680.0L191.0,680.0C191.2,675.8 192.0,664.0 192.5,655.0C193.0,644.3 193.2,630.3 194.0,620.0C194.6,611.8 195.9,601.7 196.3,598.0L196.3,598.0C196.6,598.3 197.7,598.7 198.2,600.0C200.8,606.2 198.7,646.4 199.5,662.0C200.0,671.5 199.9,681.0 201.5,685.0C202.2,686.6 203.6,687.5 204.0,688.0L204.0,688.0C204.8,687.7 207.9,686.7 208.7,686.4L208.7,686.4C209.9,687.6 213.2,692.6 216.1,693.8C218.8,694.9 222.4,693.2 225.5,693.8C228.7,694.4 231.5,696.9 234.8,697.6C238.3,698.3 242.4,697.9 246.1,697.6C249.9,697.3 253.3,696.0 257.3,695.7C261.9,695.3 267.7,696.4 272.3,695.7C276.4,695.0 279.9,693.8 283.5,692.0C287.4,690.1 291.0,687.0 294.7,684.5C298.5,682.0 302.8,677.4 306.0,677.0C308.1,676.7 310.7,678.6 311.6,678.9L311.6,678.9C312.5,683.6 315.7,697.6 317.2,707.0C318.7,716.3 319.5,726.8 320.5,735.0C321.3,741.4 321.8,747.7 322.5,752.0C323.0,754.7 323.0,757.2 324.0,758.5C324.6,759.4 325.0,759.6 326.5,760.0C333.5,761.9 380.2,760.0 391.0,760.0L391.0,760.0C391.2,753.7 391.8,732.9 392.5,722.0C393.0,713.7 393.6,707.1 394.5,700.0C395.3,693.2 396.5,687.3 397.5,680.0C398.8,671.0 400.0,660.4 401.5,650.0C403.1,638.6 405.8,620.2 406.7,614.2L406.7,614.2C407.5,619.5 410.1,636.6 411.5,646.1C412.7,653.8 414.2,663.4 414.7,666.9L414.7,666.9C415.5,665.3 418.7,658.9 419.5,657.3L419.5,657.3C420.6,659.2 423.5,665.2 425.8,668.5C427.8,671.5 431.1,675.2 432.2,676.5L432.2,676.5C433.8,676.2 438.2,674.8 441.8,674.9C446.5,675.0 452.6,676.1 457.8,678.1C463.3,680.2 468.7,683.9 473.8,687.7C479.3,691.8 484.0,697.3 489.7,702.0C495.7,706.9 503.4,712.2 508.9,716.4C513.1,719.6 516.0,722.7 520.0,725.0C523.9,727.2 528.0,730.3 532.4,730.0C537.6,729.7 543.3,723.7 548.9,720.9C554.3,718.2 560.4,714.3 565.4,713.5C569.2,712.8 571.9,714.8 576.0,714.4C581.7,713.8 589.0,709.7 596.2,708.4C604.3,706.9 616.9,706.1 622.4,706.4C625.0,706.6 625.9,706.6 628.0,707.5C631.5,708.9 635.6,714.3 640.5,716.0C646.2,718.0 653.3,717.6 660.6,717.5C669.2,717.3 679.7,714.7 688.8,714.4C697.2,714.1 703.7,715.1 713.0,715.5C725.5,716.1 747.5,718.3 757.2,717.5C762.1,717.1 764.0,716.0 768.1,715.2C773.4,714.1 780.2,712.8 786.2,711.6C792.2,710.5 797.6,708.7 804.3,708.3C812.4,707.8 822.4,709.9 831.5,709.8C840.6,709.7 850.1,708.2 858.7,707.6C866.3,707.0 873.0,705.9 880.4,706.1C888.1,706.3 896.8,708.2 903.9,708.9C909.7,709.5 917.1,710.1 919.8,710.3" fill="none" stroke="#ff0000" stroke-width="5.4" stroke-linejoin="round" stroke-linecap="round"/></g><line x1="286.3" y1="123.4" x2="342.3" y2="170.4" stroke="#0000ff" stroke-width="2.7"/><path d="M359.5,184.9L330.2,175.4L342.3,170.4L345.1,157.7Z" fill="#0000ff"/><line x1="250.5" y1="138.5" x2="342.1" y2="221.3" stroke="#ff0000" stroke-width="2.7"/><path d="M358.8,236.4L329.9,225.9L342.1,221.3L345.4,208.7Z" fill="#ff0000"/><line x1="489.0" y1="209.9" x2="467.3" y2="283.5" stroke="#0000ff" stroke-width="2.7"/><path d="M460.9,305.1L457.8,274.5L467.3,283.5L480.1,281.0Z" fill="#0000ff"/><line x1="419.9" y1="220.9" x2="455.0" y2="275.6" stroke="#ff0000" stroke-width="2.7"/><path d="M467.1,294.5L442.0,276.8L455.0,275.6L461.5,264.2Z" fill="#ff0000"/><line x1="639.6" y1="147.7" x2="553.5" y2="255.0" stroke="#0000ff" stroke-width="2.7"/><path d="M539.4,272.5L548.2,243.0L553.5,255.0L566.3,257.5Z" fill="#0000ff"/><line x1="567.2" y1="158.6" x2="552.2" y2="193.7" stroke="#ff0000" stroke-width="2.7"/><path d="M543.4,214.4L543.9,183.6L552.2,193.7L565.3,192.7Z" fill="#ff0000"/><line x1="859.4" y1="211.1" x2="845.8" y2="310.7" stroke="#0000ff" stroke-width="2.7"/><path d="M842.8,333.0L835.2,303.2L845.8,310.7L858.1,306.3Z" fill="#0000ff"/><line x1="775.4" y1="198.4" x2="824.9" y2="294.9" stroke="#ff0000" stroke-width="2.7"/><path d="M835.2,314.9L811.9,294.8L824.9,294.9L832.5,284.2Z" fill="#ff0000"/><line x1="295.5" y1="562.9" x2="306.6" y2="641.6" stroke="#0000ff" stroke-width="2.7"/><path d="M309.7,663.9L294.2,637.3L306.6,641.6L317.2,634.1Z" fill="#0000ff"/><line x1="245.3" y1="576.0" x2="289.5" y2="657.2" stroke="#ff0000" stroke-width="2.7"/><path d="M300.3,677.0L276.5,657.5L289.5,657.2L296.9,646.4Z" fill="#ff0000"/><line x1="512.1" y1="595.0" x2="427.6" y2="645.7" stroke="#0000ff" stroke-width="2.7"/><path d="M408.3,657.3L426.8,632.7L427.6,645.7L438.7,652.6Z" fill="#0000ff"/><line x1="435.4" y1="545.5" x2="416.6" y2="593.3" stroke="#ff0000" stroke-width="2.7"/><path d="M408.3,614.2L408.0,583.4L416.6,593.3L429.5,591.9Z" fill="#ff0000"/><line x1="749.0" y1="607.4" x2="754.6" y2="695.1" stroke="#0000ff" stroke-width="2.7"/><path d="M756.0,717.6L742.6,689.9L754.6,695.1L765.8,688.4Z" fill="#0000ff"/><line x1="681.7" y1="631.0" x2="740.6" y2="700.4" stroke="#ff0000" stroke-width="2.7"/><path d="M755.1,717.6L727.8,703.4L740.6,700.4L745.5,688.4Z" fill="#ff0000"/><path d="M188.5,358.4v-6.5M188.5,16.3v6.5M219.0,358.4v-6.5M219.0,16.3v6.5M249.4,358.4v-6.5M249.4,16.3v6.5M279.9,358.4v-6.5M279.9,16.3v6.5M310.4,358.4v-12M310.4,16.3v12M340.9,358.4v-6.5M340.9,16.3v6.5M371.4,358.4v-6.5M371.4,16.3v6.5M401.8,358.4v-6.5M401.8,16.3v6.5M432.3,358.4v-6.5M432.3,16.3v6.5M462.8,358.4v-12M462.8,16.3v12M493.3,358.4v-6.5M493.3,16.3v6.5M523.8,358.4v-6.5M523.8,16.3v6.5M554.2,358.4v-6.5M554.2,16.3v6.5M584.7,358.4v-6.5M584.7,16.3v6.5M615.2,358.4v-12M615.2,16.3v12M645.7,358.4v-6.5M645.7,16.3v6.5M676.2,358.4v-6.5M676.2,16.3v6.5M706.6,358.4v-6.5M706.6,16.3v6.5M737.1,358.4v-6.5M737.1,16.3v6.5M767.6,358.4v-12M767.6,16.3v12M798.1,358.4v-6.5M798.1,16.3v6.5M828.6,358.4v-6.5M828.6,16.3v6.5M859.0,358.4v-6.5M859.0,16.3v6.5M889.5,358.4v-6.5M889.5,16.3v6.5M158,353.3h12M920,353.3h-12M158,327.8h6.5M920,327.8h-6.5M158,302.2h12M920,302.2h-12M158,276.7h6.5M920,276.7h-6.5M158,251.2h12M920,251.2h-12M158,225.7h6.5M920,225.7h-6.5M158,200.2h12M920,200.2h-12M158,174.6h6.5M920,174.6h-6.5M158,149.1h12M920,149.1h-12M158,123.6h6.5M920,123.6h-6.5M158,98.1h12M920,98.1h-12M158,72.5h6.5M920,72.5h-6.5M158,47.0h12M920,47.0h-12M158,21.5h6.5M920,21.5h-6.5" stroke="#585858" stroke-width="2.3" fill="none"/><path d="M158,358.4H920" stroke="#5a5a5a" stroke-width="2.8"/><path d="M158,16.3H920" stroke="#484848" stroke-width="2.3"/><path d="M158,15.3V359.59999999999997" stroke="#2c2c2c" stroke-width="2"/><path d="M920,15.3V359.59999999999997" stroke="#2c2c2c" stroke-width="2.6"/><path d="M188.5,765.9v-6.5M188.5,428.9v6.5M219.0,765.9v-6.5M219.0,428.9v6.5M249.4,765.9v-6.5M249.4,428.9v6.5M279.9,765.9v-6.5M279.9,428.9v6.5M310.4,765.9v-12M310.4,428.9v12M340.9,765.9v-6.5M340.9,428.9v6.5M371.4,765.9v-6.5M371.4,428.9v6.5M401.8,765.9v-6.5M401.8,428.9v6.5M432.3,765.9v-6.5M432.3,428.9v6.5M462.8,765.9v-12M462.8,428.9v12M493.3,765.9v-6.5M493.3,428.9v6.5M523.8,765.9v-6.5M523.8,428.9v6.5M554.2,765.9v-6.5M554.2,428.9v6.5M584.7,765.9v-6.5M584.7,428.9v6.5M615.2,765.9v-12M615.2,428.9v12M645.7,765.9v-6.5M645.7,428.9v6.5M676.2,765.9v-6.5M676.2,428.9v6.5M706.6,765.9v-6.5M706.6,428.9v6.5M737.1,765.9v-6.5M737.1,428.9v6.5M767.6,765.9v-12M767.6,428.9v12M798.1,765.9v-6.5M798.1,428.9v6.5M828.6,765.9v-6.5M828.6,428.9v6.5M859.0,765.9v-6.5M859.0,428.9v6.5M889.5,765.9v-6.5M889.5,428.9v6.5M158,761.0h12M920,761.0h-12M158,735.9h6.5M920,735.9h-6.5M158,710.7h12M920,710.7h-12M158,685.6h6.5M920,685.6h-6.5M158,660.4h12M920,660.4h-12M158,635.3h6.5M920,635.3h-6.5M158,610.1h12M920,610.1h-12M158,585.0h6.5M920,585.0h-6.5M158,559.8h12M920,559.8h-12M158,534.7h6.5M920,534.7h-6.5M158,509.5h12M920,509.5h-12M158,484.4h6.5M920,484.4h-6.5M158,459.3h12M920,459.3h-12M158,434.1h6.5M920,434.1h-6.5" stroke="#585858" stroke-width="2.3" fill="none"/><path d="M158,765.9H920" stroke="#2e2e2e" stroke-width="2.4"/><path d="M158,428.9H920" stroke="#484848" stroke-width="2.3"/><path d="M158,427.9V767.1" stroke="#2c2c2c" stroke-width="2"/><path d="M920,427.9V767.1" stroke="#2c2c2c" stroke-width="2.6"/><text x="148.3" y="368.4" text-anchor="end" class="tl">0</text><text x="148.3" y="317.4" text-anchor="end" class="tl">500</text><text x="148.3" y="266.3" text-anchor="end" class="tl">1000</text><text x="148.3" y="215.2" text-anchor="end" class="tl">1500</text><text x="148.3" y="164.2" text-anchor="end" class="tl">2000</text><text x="148.3" y="113.2" text-anchor="end" class="tl">2500</text><text x="148.3" y="62.1" text-anchor="end" class="tl">3000</text><text x="148.3" y="776.1" text-anchor="end" class="tl">0</text><text x="148.3" y="725.8" text-anchor="end" class="tl">500</text><text x="148.3" y="675.5" text-anchor="end" class="tl">1000</text><text x="148.3" y="625.2" text-anchor="end" class="tl">1500</text><text x="148.3" y="574.9" text-anchor="end" class="tl">2000</text><text x="148.3" y="524.6" text-anchor="end" class="tl">2500</text><text x="148.3" y="474.4" text-anchor="end" class="tl">3000</text><text x="158.0" y="404.6" text-anchor="middle" class="tl">0</text><text x="310.4" y="404.6" text-anchor="middle" class="tl">1</text><text x="462.8" y="404.6" text-anchor="middle" class="tl">2</text><text x="615.2" y="404.6" text-anchor="middle" class="tl">3</text><text x="767.6" y="404.6" text-anchor="middle" class="tl">4</text><text x="920.0" y="404.6" text-anchor="middle" class="tl">5</text><text x="158.0" y="811.6" text-anchor="middle" class="tl">0</text><text x="310.4" y="811.6" text-anchor="middle" class="tl">1</text><text x="462.8" y="811.6" text-anchor="middle" class="tl">2</text><text x="615.2" y="811.6" text-anchor="middle" class="tl">3</text><text x="767.6" y="811.6" text-anchor="middle" class="tl">4</text><text x="920.0" y="811.6" text-anchor="middle" class="tl">5</text><text x="206" y="52" class="pl">a)</text><text x="206" y="466.5" class="pl">b)</text><text x="35" y="187.3" class="ax" text-anchor="middle" transform="rotate(-90 35 187.3)">Force (N)</text><text x="35" y="597" class="ax" text-anchor="middle" transform="rotate(-90 35 597)">Force (N)</text><text x="540.8" y="874.3" class="ax" text-anchor="middle">Time (seconds)</text><text x="938.5" y="14.9" class="kp" style="font-size:18.5px">kPa</text><text x="0" y="42.6" class="lg" style="font-size:14.6px;fill:#1f5cc0" transform="translate(961,0) scale(0.87,1)">0</text><rect x="944" y="54.8" width="11" height="11" fill="#6010ff"/><text x="0" y="65.6" class="lg" style="font-size:14.6px" transform="translate(961,0) scale(0.87,1)">185</text><rect x="944" y="77.8" width="11" height="11" fill="#3008ff"/><text x="0" y="88.6" class="lg" style="font-size:14.6px" transform="translate(961,0) scale(0.87,1)">369</text><rect x="944" y="100.8" width="11" height="11" fill="#0000ff"/><text x="0" y="111.6" class="lg" style="font-size:14.6px" transform="translate(961,0) scale(0.87,1)">554</text><rect x="944" y="123.8" width="11" height="11" fill="#0830ff"/><text x="0" y="134.6" class="lg" style="font-size:14.6px" transform="translate(961,0) scale(0.87,1)">739</text><rect x="944" y="146.8" width="11" height="11" fill="#0860ff"/><text x="0" y="157.6" class="lg" style="font-size:14.6px" transform="translate(961,0) scale(0.87,1)">923</text><rect x="944" y="169.8" width="11" height="11" fill="#0888ff"/><text x="0" y="180.6" class="lg" style="font-size:14.6px" transform="translate(961,0) scale(0.87,1)">1108</text><rect x="944" y="192.8" width="11" height="11" fill="#00aaff"/><text x="0" y="203.6" class="lg" style="font-size:14.6px" transform="translate(961,0) scale(0.87,1)">1293</text><rect x="944" y="215.8" width="11" height="11" fill="#00c4ff"/><text x="0" y="226.6" class="lg" style="font-size:14.6px" transform="translate(961,0) scale(0.87,1)">1478</text><rect x="944" y="238.8" width="11" height="11" fill="#00e0f4"/><text x="0" y="249.6" class="lg" style="font-size:14.6px" transform="translate(961,0) scale(0.87,1)">1662</text><rect x="944" y="261.8" width="11" height="11" fill="#00e0c8"/><text x="0" y="272.6" class="lg" style="font-size:14.6px" transform="translate(961,0) scale(0.87,1)">1847</text><rect x="944" y="284.8" width="11" height="11" fill="#00e0a0"/><text x="0" y="295.6" class="lg" style="font-size:14.6px" transform="translate(961,0) scale(0.87,1)">2032</text><rect x="944" y="307.8" width="11" height="11" fill="#00de74"/><text x="0" y="318.6" class="lg" style="font-size:14.6px" transform="translate(961,0) scale(0.87,1)">2216</text><rect x="944" y="330.8" width="11" height="11" fill="#00d444"/><text x="0" y="341.6" class="lg" style="font-size:14.6px" transform="translate(961,0) scale(0.87,1)">2401</text><rect x="944" y="353.8" width="11" height="11" fill="#00d000"/><text x="0" y="364.6" class="lg" style="font-size:14.6px" transform="translate(961,0) scale(0.87,1)">2586</text><rect x="944" y="376.8" width="11" height="11" fill="#18d800"/><text x="0" y="387.6" class="lg" style="font-size:14.6px" transform="translate(961,0) scale(0.87,1)">2770</text><rect x="944" y="399.8" width="11" height="11" fill="#48dc00"/><text x="0" y="410.6" class="lg" style="font-size:14.6px" transform="translate(961,0) scale(0.87,1)">2955</text><text x="943.5" y="439" class="kp" style="font-size:18px">kPa</text><text x="0" y="465.2" class="lg" style="font-size:14.4px;fill:#1f5cc0" transform="translate(966,0) scale(0.85,1)">0</text><rect x="949.3" y="476.8" width="10.5" height="10.5" fill="#7020ff"/><text x="0" y="487.2" class="lg" style="font-size:14.4px" transform="translate(966,0) scale(0.85,1)">102</text><rect x="949.3" y="498.8" width="10.5" height="10.5" fill="#3010ff"/><text x="0" y="509.2" class="lg" style="font-size:14.4px" transform="translate(966,0) scale(0.85,1)">204</text><rect x="949.3" y="520.8" width="10.5" height="10.5" fill="#0010ff"/><text x="0" y="531.2" class="lg" style="font-size:14.4px" transform="translate(966,0) scale(0.85,1)">306</text><rect x="949.3" y="542.8" width="10.5" height="10.5" fill="#0030ff"/><text x="0" y="553.2" class="lg" style="font-size:14.4px" transform="translate(966,0) scale(0.85,1)">408</text><rect x="949.3" y="564.8" width="10.5" height="10.5" fill="#0060ff"/><text x="0" y="575.2" class="lg" style="font-size:14.4px" transform="translate(966,0) scale(0.85,1)">509</text><rect x="949.3" y="586.8" width="10.5" height="10.5" fill="#0080ff"/><text x="0" y="597.2" class="lg" style="font-size:14.4px" transform="translate(966,0) scale(0.85,1)">611</text><rect x="949.3" y="608.8" width="10.5" height="10.5" fill="#00a0ff"/><text x="0" y="619.2" class="lg" style="font-size:14.4px" transform="translate(966,0) scale(0.85,1)">713</text><rect x="949.3" y="630.8" width="10.5" height="10.5" fill="#00c8ff"/><text x="0" y="641.2" class="lg" style="font-size:14.4px" transform="translate(966,0) scale(0.85,1)">815</text><rect x="949.3" y="652.8" width="10.5" height="10.5" fill="#00e0f0"/><text x="0" y="663.2" class="lg" style="font-size:14.4px" transform="translate(966,0) scale(0.85,1)">917</text><rect x="949.3" y="674.8" width="10.5" height="10.5" fill="#00e0d0"/><text x="0" y="685.2" class="lg" style="font-size:14.4px" transform="translate(966,0) scale(0.85,1)">1019</text><rect x="949.3" y="696.8" width="10.5" height="10.5" fill="#00e0a0"/><text x="0" y="707.2" class="lg" style="font-size:14.4px" transform="translate(966,0) scale(0.85,1)">1121</text><rect x="949.3" y="718.8" width="10.5" height="10.5" fill="#00e070"/><text x="0" y="729.2" class="lg" style="font-size:14.4px" transform="translate(966,0) scale(0.85,1)">1223</text><rect x="949.3" y="740.8" width="10.5" height="10.5" fill="#00d040"/><text x="0" y="751.2" class="lg" style="font-size:14.4px" transform="translate(966,0) scale(0.85,1)">1325</text><rect x="949.3" y="762.8" width="10.5" height="10.5" fill="#00d000"/><text x="0" y="773.2" class="lg" style="font-size:14.4px" transform="translate(966,0) scale(0.85,1)">1427</text><rect x="949.3" y="784.8" width="10.5" height="10.5" fill="#10d800"/><text x="0" y="795.2" class="lg" style="font-size:14.4px" transform="translate(966,0) scale(0.85,1)">1528</text><rect x="949.3" y="806.8" width="10.5" height="10.5" fill="#40dc00"/><text x="0" y="817.2" class="lg" style="font-size:14.4px" transform="translate(966,0) scale(0.85,1)">1630</text><rect x="949.3" y="828.8" width="10.5" height="10.5" fill="#70e000"/><text x="0" y="839.2" class="lg" style="font-size:14.4px" transform="translate(966,0) scale(0.85,1)">1732</text><rect x="949.3" y="850.8" width="10.5" height="10.5" fill="#a0e000"/><text x="0" y="861.2" class="lg" style="font-size:14.4px" transform="translate(966,0) scale(0.85,1)">1834</text><rect x="949.3" y="872.8" width="10.5" height="10.5" fill="#e0e000"/><text x="0" y="883.2" class="lg" style="font-size:14.4px" transform="translate(966,0) scale(0.85,1)">1936</text><rect x="949.3" y="894.8" width="10.5" height="10.5" fill="#ffd800"/><text x="0" y="905.2" class="lg" style="font-size:14.4px" transform="translate(966,0) scale(0.85,1)">2038</text></svg></body></html>
